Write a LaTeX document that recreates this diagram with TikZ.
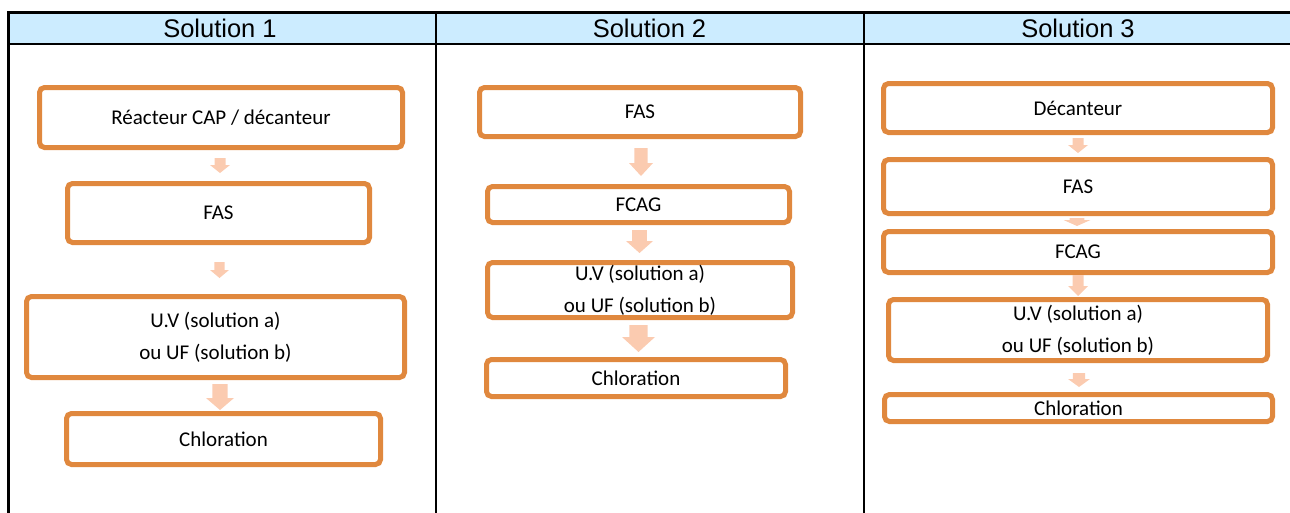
\documentclass[tikz,border=0pt]{standalone}
\usepackage{fontspec}
\setmainfont{Carlito}
\newfontfamily\headfont{Liberation Sans}

\definecolor{boxorange}{RGB}{224,136,62}
\definecolor{arrowpeach}{RGB}{251,203,176}
\definecolor{headblue}{RGB}{204,236,255}

% block arrow pointing down: name, x, y, width, height, head length
\newcommand{\flowarrow}[6]{%
  \coordinate (#1) at (#2,#3);
  \fill[arrowpeach, shift={(#1)}]
    (-0.275*#4,-0.5*#5) -- (0.275*#4,-0.5*#5) -- (0.275*#4,0.5*#5-#6)
    -- (0.5*#4,0.5*#5-#6) -- (0,0.5*#5) -- (-0.5*#4,0.5*#5-#6)
    -- (-0.275*#4,0.5*#5-#6) -- cycle;}

\begin{document}
\begin{tikzpicture}[x=1pt,y=-1pt,
  gridline/.style={draw=black, line width=2.5pt},
  headtext/.style={font=\headfont\fontsize{25.5}{30}\selectfont, inner sep=0pt},
  stagebox/.style 2 args={draw=boxorange, line width=5pt, rounded corners=5pt,
    fill=white, inner sep=0pt, align=center,
    font=\fontsize{21}{32}\selectfont,
    minimum width=#1pt, minimum height=#2pt}
]
\useasboundingbox (0,0) rectangle (1290,512);

% table frame and header row
\fill[headblue] (8.5,12.5) rectangle (1295,44);
\draw[gridline] (1295,12.5) -- (8.5,12.5) -- (8.5,515);
\draw[gridline] (8.5,44) -- (1295,44);
\draw[gridline] (436,12.5) -- (436,515);
\draw[gridline] (864,12.5) -- (864,515);

\node[headtext] (h1) at (220,28.5) {Solution 1};
\node[headtext] (h2) at (649.5,28.5) {Solution 2};
\node[headtext] (h3) at (1078,28.5) {Solution 3};

% Solution 1
\node[stagebox={363}{60}] (b11) at (221,117.5) {Réacteur CAP / décanteur};
\node[stagebox={302}{59}] (b12) at (218.5,213) {FAS};
\node[stagebox={378}{81}] (b13) at (215.5,337) {U.V (solution a)\\ou UF (solution b)};
\node[stagebox={314}{51}] (b14) at (223.5,439) {Chloration};
\flowarrow{a11}{220}{165.5}{20}{15}{8}
\flowarrow{a12}{219.5}{270}{19}{16}{8}
\flowarrow{a13}{220}{397}{28}{26}{12}

% Solution 2
\node[stagebox={321}{49}] (b21) at (640,112) {FAS};
\node[stagebox={302}{36}] (b22) at (638.5,204.5) {FCAG};
\node[stagebox={305}{55}] (b23) at (640,290) {U.V (solution a)\\ou UF (solution b)};
\node[stagebox={299}{37}] (b24) at (636,378) {Chloration};
\flowarrow{a21}{641}{162}{24}{28}{13}
\flowarrow{a22}{639.5}{241.5}{27}{23}{12}
\flowarrow{a23}{638.5}{338.5}{33}{27}{15}

% Solution 3
\node[stagebox={389}{49}] (b31) at (1078,108) {Décanteur};
\node[stagebox={389}{54}] (b32) at (1078,186.5) {FAS};
\node[stagebox={389}{41}] (b33) at (1078,252) {FCAG};
\node[stagebox={379}{61}] (b34) at (1078,330) {U.V (solution a)\\ou UF (solution b)};
\node[stagebox={388}{27}] (b35) at (1078.5,408) {Chloration};
\flowarrow{a31}{1078}{145.5}{20}{15}{8}
\flowarrow{a32}{1077}{222}{27}{8}{6}
\flowarrow{a33}{1078}{285.5}{20}{21}{10}
\flowarrow{a34}{1079}{380}{22}{14}{8}
\end{tikzpicture}
\end{document}
